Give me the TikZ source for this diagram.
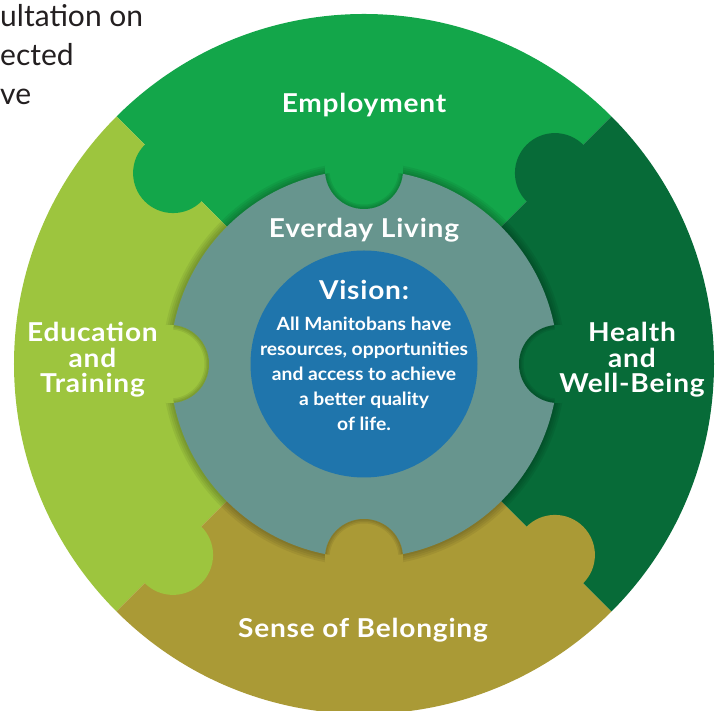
\documentclass[tikz,border=0pt]{standalone}
\usepackage{fontspec}
\setmainfont{Lato}
\newfontfamily\labfont{Lato}[FakeStretch=1.08, LetterSpace=3]
\newfontfamily\bodyfont{Lato}[FakeStretch=1.06]
\definecolor{emp}{HTML}{13A64A}
\definecolor{health}{HTML}{076B38}
\definecolor{edu}{HTML}{9DC53E}
\definecolor{sense}{HTML}{AA9A36}
\definecolor{ringc}{HTML}{67958E}
\definecolor{visc}{HTML}{1F75AC}
\definecolor{notec}{HTML}{231F20}
\tikzset{
  lab/.style={text=white, font=\labfont\bfseries\fontsize{26}{25.5}\selectfont, align=center, inner sep=0pt},
  bodytxt/.style={text=white, font=\bodyfont\bfseries\fontsize{18.2}{25}\selectfont, align=center, inner sep=0pt},
  notetxt/.style={text=notec, font=\fontsize{30}{39}\selectfont, align=left, inner sep=0pt},
}
\begin{document}
\begin{tikzpicture}[x=1pt,y=1pt]
\useasboundingbox (0,0) rectangle (716,711);
\clip (0,0) rectangle (716,711);
\coordinate (C) at (364,347);
% outer segments
\fill[emp]    (C) -- ++(45:350pt)  arc[start angle=45,  end angle=135, radius=350pt] -- cycle;
\fill[edu]    (C) -- ++(135:350pt) arc[start angle=135, end angle=225, radius=350pt] -- cycle;
\fill[sense]  (C) -- ++(225:350pt) arc[start angle=225, end angle=315, radius=350pt] -- cycle;
\fill[health] (C) -- ++(315:350pt) arc[start angle=315, end angle=405, radius=350pt] -- cycle;
% puzzle tabs between outer segments
\fill[emp]    ([shift={(135:270pt)}]C) circle[radius=40pt];
\fill[health] ([shift={(45:270pt)}]C)  circle[radius=40pt];
\fill[edu]    ([shift={(225:270pt)}]C) circle[radius=40pt];
\fill[sense]  ([shift={(315:270pt)}]C) circle[radius=40pt];
% soft shadow of the ring
\foreach \w in {4,8,12,16}{
  \draw[black, opacity=0.06, line width=\w pt] (C) circle[radius=194pt];
}
% ring
\fill[ringc] (C) circle[radius=194pt];
% tabs into the ring
\foreach \a/\col in {90/emp,180/edu,0/health,270/sense}{
  \fill[\col] ([shift={(\a:194pt)}]C) circle[radius=39pt];
  \begin{scope}
    \clip (C) circle[radius=194pt];
    \clip ([shift={(\a:194pt)}]C) circle[radius=39pt];
    \foreach \w in {3,6,9}{
      \draw[black, opacity=0.07, line width=\w pt] ([shift={(\a:194pt)}]C) circle[radius=39pt];
    }
  \end{scope}
}
% vision circle
\fill[visc] (C) circle[radius=113.5pt];
% labels
\node[lab, anchor=base] (lemp) at (364,598) {Employment};
\node[lab, anchor=base] (lev) at (364,473) {Everday Living};
\node[lab, anchor=base] (lvis) at (364,411) {Vision:};
\node[bodytxt, anchor=base] (lbody) at (364,280) {All Manitobans have\\resources, opportunities\\and access to achieve\\a better quality\\of life.};
\node[lab, anchor=base] (ledu) at (92.5,318) {Education\\and\\Training};
\node[lab, anchor=base] (lhealth) at (632,318) {Health\\and\\Well-Being};
\node[lab, anchor=base] (lsense) at (363,73) {Sense of Belonging};
\node[notetxt, anchor=base west] (note) at (0,606) {ultation on\\ected\\ve};
\end{tikzpicture}
\end{document}
